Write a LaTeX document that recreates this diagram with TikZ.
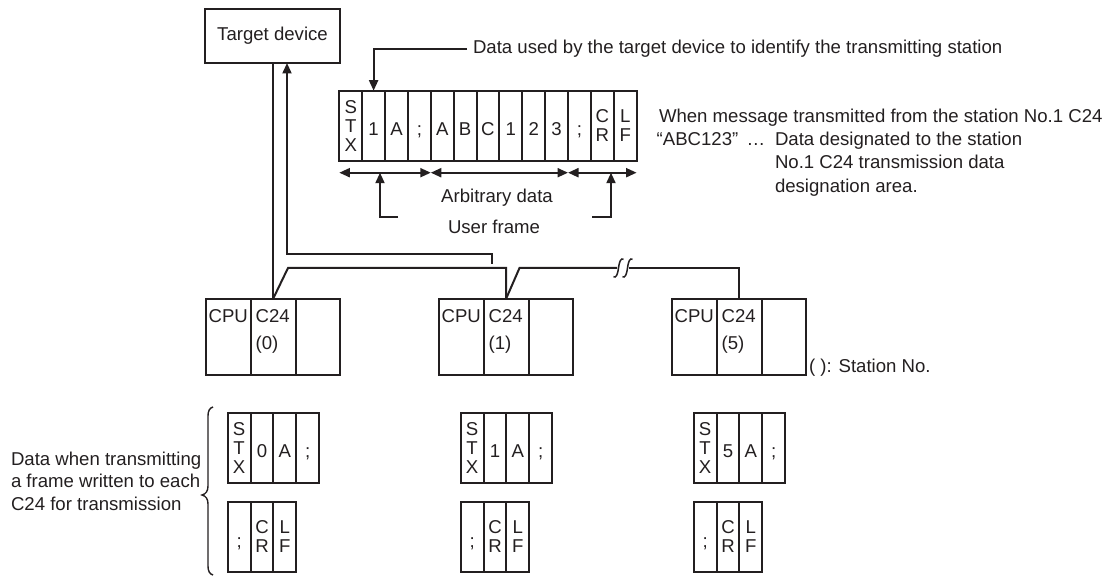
\documentclass[tikz,border=0pt]{standalone}
\usepackage{fontspec}
\setmainfont{Liberation Sans}
\usetikzlibrary{arrows.meta,calc}
\definecolor{ink}{HTML}{231F20}
\begin{document}
\begin{tikzpicture}[x=1pt,y=-1pt,
  color=ink, line width=2pt,
  every node/.style={inner sep=0pt, outer sep=0pt, text=ink, font=\fontsize{18.6}{19}\selectfont},
  tip/.style={-{Triangle[length=10.5pt,width=9pt]}},
  dtip/.style={{Triangle[length=10.5pt,width=9pt]}-{Triangle[length=10.5pt,width=9pt]}},
  fcell/.style={draw, line width=2pt, minimum width=22.87pt, minimum height=70pt, text height=19pt, text depth=0pt},
  lcell/.style={draw, line width=2pt, minimum width=22.85pt, minimum height=70pt, text height=20pt, text depth=0pt},
  mcell/.style={draw, line width=2pt, minimum width=22.87pt, minimum height=70pt, align=center},
  ucell/.style={draw, line width=2pt, minimum height=76pt},
  lbl/.style={anchor=base west}
]
\useasboundingbox (0,0) rectangle (1103,577);

% target device
\node[draw, line width=1.7pt, minimum width=135pt, minimum height=54pt] (td) at (272.5,36) {Target device};

% transmitted frame
\foreach \t [count=\i] in {S\\T\\X,1,A,;,A,B,C,1,2,3,;,C\\R,L\\F}{
  \ifnum\i=1 \node[mcell] (f\i) at ({339.3+22.87*(\i-0.5)},125.7) {\t};
  \else\ifnum\i>11 \node[mcell] (f\i) at ({339.3+22.87*(\i-0.5)},125.7) {\t};
  \else \node[fcell] (f\i) at ({339.3+22.87*(\i-0.5)},125.7) {\t};
  \fi\fi
}

% callout to the station number
\node[anchor=west] (note) at (473,49) {Data used by the target device to identify the transmitting station};
\draw[tip] ($(note.west)+(-6,0)$) -| (f2.north);

% ranges under the frame
\coordinate (r0) at ($(f1.south west)+(0,12)$);
\coordinate (r1) at ($(f4.south east)+(0,12)$);
\coordinate (r2) at ($(f10.south east)+(0,12)$);
\coordinate (r3) at ($(f13.south east)+(0,12)$);
\draw[dtip] (r0) -- (r1);
\draw[dtip] (r1) -- (r2);
\draw[dtip] (r2) -- (r3);
\node (arb) at (497,197.5) {Arbitrary data};
\node (uf) at (494,226.5) {User frame};
\coordinate (ua) at (380,172.7);
\coordinate (ub) at (611,172.7);
\coordinate (uas) at (398,217);
\coordinate (ubs) at (592,217);
\draw[tip] (uas) -| (ua);
\draw[tip] (ubs) -| (ub);

% explanation on the right
\node[lbl] (w1) at (659,122.3) {When message transmitted from the station No.1 C24};
\node[lbl] (w2) at (656.7,145.7) {“ABC123”};
\node[lbl] (w3) at (746.5,145.7) {…};
\node[lbl] (w4) at (775,145.7) {Data designated to the station};
\node[lbl] (w5) at (775,169) {No.1 C24 transmission data};
\node[lbl] (w6) at (775,192.3) {designation area.};

% stations
\foreach \k/\s in {0/0,1/1,2/5}{
  \node[ucell, minimum width=45pt] (cpu\k) at ({206+233*\k+22.5},337) {};
  \node[ucell, minimum width=45pt] (c\k) at ({206+233*\k+67.5},337) {};
  \node[ucell, minimum width=44pt] (e\k) at ({206+233*\k+112},337) {};
  \coordinate (c\k t) at ($(c\k.north)+(-0.5,0)$);
  \node[lbl] (tcpu\k) at ($(cpu\k.north west)+(2.6,23.4)$) {CPU};
  \node[lbl] (tc\k) at ($(c\k.north west)+(4.7,23.4)$) {C24};
  \node[lbl] (ts\k) at ($(c\k.north west)+(4.7,50.7)$) {(\s)};
  % frames written to each C24
  \node[mcell, minimum width=22.85pt] (u\k a) at ({227.7+233*\k+22.85*0.5},447.7) {S\\T\\X};
  \node[lcell] (u\k b) at ({227.7+233*\k+22.85*1.5},447.7) {\s};
  \node[lcell] (u\k c) at ({227.7+233*\k+22.85*2.5},447.7) {A};
  \node[lcell] (u\k d) at ({227.7+233*\k+22.85*3.5},447.7) {;};
  \node[lcell] (l\k a) at ({227.7+233*\k+22.85*0.5},537) {;};
  \node[mcell, minimum width=22.85pt] (l\k b) at ({227.7+233*\k+22.85*1.5},537) {C\\R};
  \node[mcell, minimum width=22.85pt] (l\k c) at ({227.7+233*\k+22.85*2.5},537) {L\\F};
}
\node[lbl] (stno) at ($(e2.south east)+(3,-3)$) {( ): Station No.};

% wiring
\draw (c0t |- td.south) -- (c0t);
\coordinate (j1) at ($(c0t)+(15,-31)$);
\draw (c0t) -- (j1) -| (c1t);
\coordinate (j2) at ($(c1t)+(13.5,-31)$);
\coordinate (k1) at (617,268);
\coordinate (k2) at (628.5,268);
\draw (c1t) -- (j2) -- (k1);
\draw (k2) -| (c2t);
\foreach \bx in {618.5,627.5}{
  \draw[line width=1.5pt] (\bx+5,259.3) .. controls (\bx+2.5,257.8) and (\bx+1,260.8) .. (\bx,268)
        .. controls (\bx-1,275.2) and (\bx-2.5,278.2) .. (\bx-5,276.7);
}
\coordinate (bs) at (492,264);
\coordinate (bt) at ($(td.south)+(14.5,0)$);
\draw[tip] (bs) -- (492,254) -| (bt);

% brace and its text
\draw[line width=1.4pt] (213,407) .. controls (209.5,408) and (208,411) .. (208,416) -- (208,486)
  .. controls (208,491) and (206,494) .. (202,495) .. controls (206,496) and (208,499) .. (208,504)
  -- (208,566) .. controls (208,571) and (209.5,574) .. (213,575);
\node[lbl] (d1) at (11,465) {Data when transmitting};
\node[lbl] (d2) at (11,487.6) {a frame written to each};
\node[lbl] (d3) at (11,510) {C24 for transmission};
\end{tikzpicture}
\end{document}
